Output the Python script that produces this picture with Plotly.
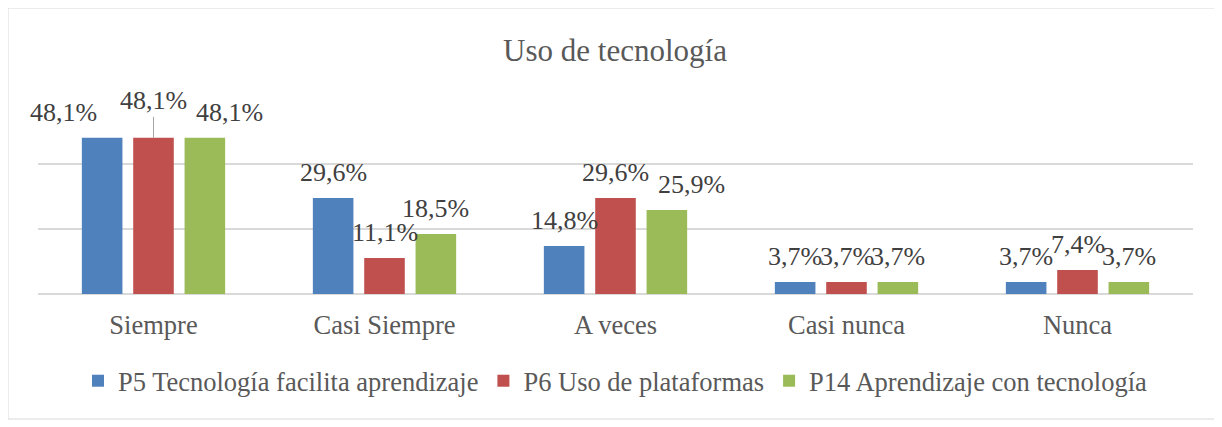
import plotly.graph_objects as go

categories = ["Siempre", "Casi Siempre", "A veces", "Casi nunca", "Nunca"]
series_names = ["P5 Tecnología facilita aprendizaje", "P6 Uso de plataformas", "P14 Aprendizaje con tecnología"]
p5_values = [48.1, 29.6, 14.8, 3.7, 3.7]
p6_values = [48.1, 11.1, 29.6, 3.7, 7.4]
p14_values = [48.1, 18.5, 25.9, 3.7, 3.7]
colors = ["#4F81BD", "#C0504D", "#9BBB59"]
title_text = "Uso de tecnología"

# page body has an 8px margin, so the figure is drawn 8px lower/right
OFF = 8
W, H = 1222 - OFF, 427 - OFF
ML, MR, MT, MB = 38 - OFF, 29, 99 - OFF, 133
BARGAP = 0.333
BARGROUPGAP = 0.21
FONT = "Liberation Serif"

all_values = [p5_values, p6_values, p14_values]

fig = go.Figure()
for name, vals, col in zip(series_names, all_values, colors):
    fig.add_trace(go.Bar(
        x=categories, y=vals, name=name,
        marker=dict(color=col, line=dict(width=0)),
    ))

plot_w = W - ML - MR
plot_h = H - MT - MB
slot = plot_w / len(categories) * (1 - BARGAP) / len(all_values)

# manual label nudges (pixels) as in the original chart
extra_x = {(0, 0): -39, (2, 0): 25, (2, 2): 25}

annotations = []
for i, vals in enumerate(all_values):
    for j, (cat, v) in enumerate(zip(categories, vals)):
        txt = f"{v:.1f}%".replace(".", ",")
        if i == 1 and j == 0:
            annotations.append(dict(
                x=cat, y=v, xref="x", yref="y", text=txt,
                showarrow=True, ax=0, ay=-37, arrowhead=0, arrowwidth=1,
                arrowcolor="#a6a6a6", standoff=0,
                font=dict(family=FONT, size=26, color="#404040"),
            ))
        else:
            annotations.append(dict(
                x=cat, y=v, xref="x", yref="y", text=txt, showarrow=False,
                xshift=(i - 1) * slot + extra_x.get((i, j), 0), yshift=25,
                xanchor="center", yanchor="middle",
                font=dict(family=FONT, size=26, color="#404040"),
            ))

fig.update_layout(
    width=W, height=H,
    margin=dict(l=ML, r=MR, t=MT, b=MB, autoexpand=False),
    paper_bgcolor="white", plot_bgcolor="white",
    barmode="group", bargap=BARGAP, bargroupgap=BARGROUPGAP,
    title=dict(text=title_text, x=0.5, xanchor="center", y=1 - (50 - OFF) / H, yanchor="middle",
               font=dict(family=FONT, size=31, color="#595959")),
    font=dict(family=FONT, color="#595959"),
    xaxis=dict(range=[-0.5, len(categories) - 0.5], autorange=False,
               showgrid=False, showline=False, ticks="", ticklabelstandoff=12,
               tickfont=dict(family=FONT, size=26.5, color="#595959")),
    yaxis=dict(range=[0, 60.05], dtick=20, showticklabels=False, showgrid=True,
               gridcolor="#d9d9d9", gridwidth=1.5, zeroline=True,
               zerolinecolor="#d9d9d9", zerolinewidth=1.5, showline=False),
    legend=dict(orientation="h", x=0.5, xanchor="center", y=(294 - 381) / plot_h,
                yanchor="middle", font=dict(family=FONT, size=26.5, color="#595959"),
                itemwidth=30, tracegroupgap=0),
    annotations=annotations,
    shapes=[dict(type="rect", xref="paper", yref="paper",
                 x0=(8 - 38) / plot_w, x1=(1221 - 38) / plot_w,
                 y0=(294 - 419) / plot_h, y1=(294 - 8) / plot_h,
                 line=dict(color="#d9d9d9", width=1), fillcolor="rgba(0,0,0,0)")],
)

fig.write_html("out.html")
